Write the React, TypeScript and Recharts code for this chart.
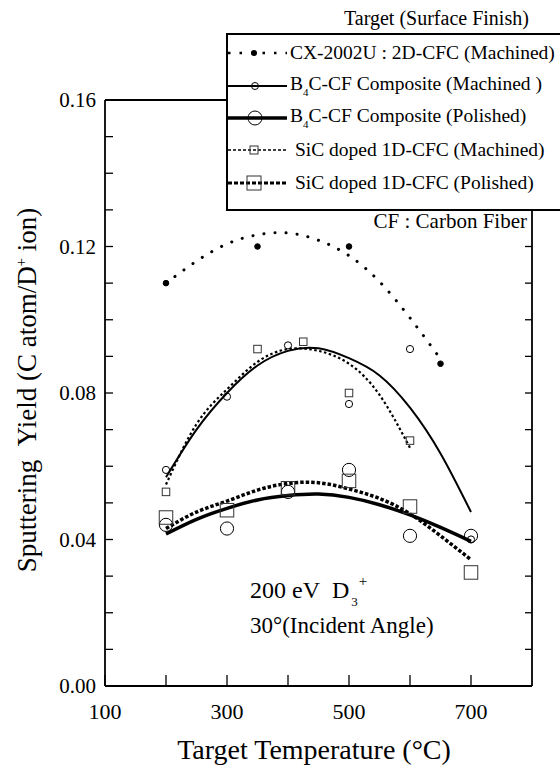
import { ComposedChart, Line, Scatter, XAxis, YAxis, Legend } from 'recharts'

const SERIF = '"Liberation Serif", "Times New Roman", serif'

// axis ticks
const xTicks = [100, 200, 300, 400, 500, 600, 700]
const xTickLabels = [100, 300, 500, 700]
const yTicks = [0, 0.01, 0.02, 0.03, 0.04, 0.05, 0.06, 0.07, 0.08, 0.09, 0.1, 0.11, 0.12, 0.13, 0.14, 0.15, 0.16]
const yTickLabels = [0, 0.04, 0.08, 0.12, 0.16]

// measured points
const cxTemps = [200, 350, 500, 650]
const cxYield = [0.110, 0.120, 0.120, 0.088]
const b4cMachTemps = [200, 300, 400, 500, 600, 700]
const b4cMachYield = [0.059, 0.079, 0.093, 0.077, 0.092, 0.040]
const b4cPolTemps = [200, 300, 400, 500, 600, 700]
const b4cPolYield = [0.044, 0.043, 0.053, 0.059, 0.041, 0.041]
const sicMachTemps = [200, 350, 425, 500, 600]
const sicMachYield = [0.053, 0.092, 0.094, 0.080, 0.067]
const sicPolTemps = [200, 300, 400, 500, 600, 700]
const sicPolYield = [0.046, 0.048, 0.054, 0.056, 0.049, 0.031]

// fitted curves
const fitTemps = [200, 250, 300, 350, 400, 450, 500, 550, 600, 650, 700]
const cxFit = [0.110, 0.116, 0.1207, 0.1232, 0.1237, 0.1217, 0.1175, 0.1104, 0.1005, 0.0893]
const b4cMachFit = [0.057, 0.070, 0.080, 0.0875, 0.0915, 0.0922, 0.0895, 0.0848, 0.076, 0.0635, 0.0475]
const sicMachFit = [0.055, 0.0715, 0.081, 0.0885, 0.092, 0.0915, 0.088, 0.0795, 0.065]
const b4cPolFit = [0.0415, 0.0455, 0.0485, 0.0508, 0.052, 0.0524, 0.0515, 0.0495, 0.0467, 0.0433, 0.0395]
const sicPolFit = [0.043, 0.0475, 0.0505, 0.0535, 0.0553, 0.0555, 0.0538, 0.0512, 0.047, 0.041, 0.0345]

const toPoints = (temps: number[], values: number[]) => values.map((y, i) => ({ t: temps[i], y }))

const circleShape = (r: number, filled: boolean) => (p: any) => (
  <circle cx={p.cx} cy={p.cy} r={r} fill={filled ? '#000' : 'none'} stroke="#000" strokeWidth={1} />
)
const squareShape = (s: number) => (p: any) => (
  <rect x={p.cx - s / 2} y={p.cy - s / 2} width={s} height={s} fill="none" stroke="#333" strokeWidth={1} />
)

const XTick = (p: any) => {
  const v = p.payload.value
  return (
    <g>
      <line x1={p.x} y1={p.y} x2={p.x} y2={p.y - 11} stroke="#000" strokeWidth={1.3} />
      {xTickLabels.includes(v) && (
        <text x={p.x} y={p.y + 33} textAnchor="middle" fontFamily={SERIF} fontSize={22} fill="#000">
          {v}
        </text>
      )}
    </g>
  )
}

const YTickLeft = (p: any) => {
  const v = p.payload.value
  const labelled = yTickLabels.some((l) => Math.abs(l - v) < 1e-6)
  return (
    <g>
      <line x1={p.x} y1={p.y} x2={p.x + 8} y2={p.y} stroke="#000" strokeWidth={1.3} />
      {labelled && (
        <text x={p.x - 9} y={p.y} dy="0.35em" textAnchor="end" fontFamily={SERIF} fontSize={21} fill="#000">
          {v.toFixed(2)}
        </text>
      )}
    </g>
  )
}

const YTickRight = (p: any) => (
  <line x1={p.x} y1={p.y} x2={p.x - 7} y2={p.y} stroke="#000" strokeWidth={1.3} />
)

const Sym = ({ dash, width, marker }: { dash?: string; width: number; marker: any }) => (
  <svg width={60} height={24} style={{ flex: 'none' }}>
    <line x1={0} y1={12} x2={59} y2={12} stroke="#000" strokeWidth={width} strokeDasharray={dash} />
    {marker}
  </svg>
)

const legendRows = [
  {
    sym: <Sym dash="2.5 9" width={2.5} marker={<circle cx={26} cy={12} r={3} fill="#000" />} />,
    text: <>CX-2002U : 2D-CFC (Machined)</>,
  },
  {
    sym: <Sym width={2} marker={<circle cx={27} cy={12} r={3.5} fill="none" stroke="#000" />} />,
    text: <>B<sub style={{ fontSize: 11, verticalAlign: '-6px' }}>4</sub>C-CF Composite (Machined )</>,
  },
  {
    sym: <Sym width={3.5} marker={<circle cx={27} cy={12} r={7} fill="none" stroke="#000" />} />,
    text: <>B<sub style={{ fontSize: 11, verticalAlign: '-6px' }}>4</sub>C-CF Composite (Polished)</>,
  },
  {
    sym: <Sym dash="3 2" width={1.6} marker={<rect x={22} y={8} width={8} height={8} fill="none" stroke="#333" />} />,
    text: <>&nbsp;SiC doped 1D-CFC (Machined)</>,
  },
  {
    sym: <Sym dash="4 2" width={3} marker={<rect x={19} y={5} width={14} height={14} fill="none" stroke="#333" />} />,
    text: <>&nbsp;SiC doped 1D-CFC (Polished)</>,
  },
]

const LegendBox = () => (
  <div style={{ position: 'relative', width: 560, height: 240, fontFamily: SERIF, color: '#000' }}>
    <div style={{ position: 'absolute', left: 344, top: 7, fontSize: 20, lineHeight: '22px', whiteSpace: 'nowrap' }}>
      Target (Surface Finish)
    </div>
    <div
      style={{
        position: 'absolute',
        left: 226,
        top: 33,
        width: 345,
        height: 172,
        border: '2px solid #000',
        background: '#fff',
        paddingTop: 2,
        boxSizing: 'content-box',
      }}
    >
      {legendRows.map((r, i) => (
        <div key={i} style={{ display: 'flex', alignItems: 'center', height: 32.4, fontSize: 19.5, whiteSpace: 'nowrap' }}>
          {r.sym}
          <span style={{ marginLeft: 2 }}>{r.text}</span>
        </div>
      ))}
    </div>
    <div style={{ position: 'absolute', right: 33, top: 209, fontSize: 21, lineHeight: '24px', whiteSpace: 'nowrap' }}>
      CF : Carbon Fiber
    </div>
  </div>
)

const yTitle = () => (
  <text
    x={27}
    y={390}
    transform="rotate(-90, 27, 390)"
    textAnchor="middle"
    dy="0.35em"
    fontFamily={SERIF}
    fontSize={27}
    fill="#000"
  >
    {'Sputtering\u00A0\u00A0Yield (C atom/D'}
    <tspan dy={-10} fontSize={15}>+</tspan>
    <tspan dy={10}> ion)</tspan>
  </text>
)

const xTitle = () => (
  <text x={314} y={759} textAnchor="middle" fontFamily={SERIF} fontSize={28} fill="#000">
    Target Temperature (°C)
  </text>
)

export default function App() {
  return (
    <div style={{ position: 'absolute', left: 0, top: 0, width: 560, height: 765, overflow: 'hidden', background: '#fff' }}>
      <ComposedChart width={560} height={765} margin={{ top: 99, right: 0, bottom: 0, left: 0 }}>
        <XAxis
          xAxisId="bottom"
          dataKey="t"
          type="number"
          domain={[100, 800]}
          ticks={xTicks}
          interval={0}
          height={79}
          allowDataOverflow
          axisLine={{ stroke: '#000', strokeWidth: 1.8 }}
          tickLine={false}
          tickSize={0}
          tickMargin={0}
          tick={XTick}
          label={xTitle}
        />
        <XAxis
          xAxisId="top"
          orientation="top"
          type="number"
          domain={[100, 800]}
          height={1}
          allowDataOverflow
          axisLine={{ stroke: '#000', strokeWidth: 1.8 }}
          tick={false}
          tickLine={false}
        />
        <YAxis
          yAxisId="left"
          dataKey="y"
          type="number"
          domain={[0, 0.16]}
          ticks={yTicks}
          interval={0}
          width={105}
          allowDataOverflow
          axisLine={{ stroke: '#000', strokeWidth: 1.8 }}
          tickLine={false}
          tickSize={0}
          tickMargin={0}
          tick={YTickLeft}
          label={yTitle}
        />
        <YAxis
          yAxisId="right"
          orientation="right"
          type="number"
          domain={[0, 0.16]}
          ticks={yTicks}
          interval={0}
          width={28}
          allowDataOverflow
          axisLine={{ stroke: '#000', strokeWidth: 1.8 }}
          tickLine={false}
          tickSize={0}
          tickMargin={0}
          tick={YTickRight}
        />

        {/* fitted curves */}
        <Line xAxisId="bottom" yAxisId="left" data={toPoints(fitTemps, cxFit)} dataKey="y" type="natural"
          stroke="#000" strokeWidth={3} strokeDasharray="0.1 11" strokeLinecap="round" dot={false} isAnimationActive={false} />
        <Line xAxisId="bottom" yAxisId="left" data={toPoints(fitTemps, b4cMachFit)} dataKey="y" type="natural"
          stroke="#000" strokeWidth={2} dot={false} isAnimationActive={false} />
        <Line xAxisId="bottom" yAxisId="left" data={toPoints(fitTemps, sicMachFit)} dataKey="y" type="natural"
          stroke="#000" strokeWidth={2.2} strokeDasharray="2.5 2.5" dot={false} isAnimationActive={false} />
        <Line xAxisId="bottom" yAxisId="left" data={toPoints(fitTemps, b4cPolFit)} dataKey="y" type="natural"
          stroke="#000" strokeWidth={3.5} dot={false} isAnimationActive={false} />
        <Line xAxisId="bottom" yAxisId="left" data={toPoints(fitTemps, sicPolFit)} dataKey="y" type="natural"
          stroke="#000" strokeWidth={3.5} strokeDasharray="3.5 2" dot={false} isAnimationActive={false} />

        {/* measured points */}
        <Scatter xAxisId="bottom" yAxisId="left" data={toPoints(cxTemps, cxYield)} dataKey="y"
          shape={circleShape(2.8, true)} isAnimationActive={false} />
        <Scatter xAxisId="bottom" yAxisId="left" data={toPoints(b4cMachTemps, b4cMachYield)} dataKey="y"
          shape={circleShape(3.6, false)} isAnimationActive={false} />
        <Scatter xAxisId="bottom" yAxisId="left" data={toPoints(b4cPolTemps, b4cPolYield)} dataKey="y"
          shape={circleShape(6.6, false)} isAnimationActive={false} />
        <Scatter xAxisId="bottom" yAxisId="left" data={toPoints(sicMachTemps, sicMachYield)} dataKey="y"
          shape={squareShape(7.5)} isAnimationActive={false} />
        <Scatter xAxisId="bottom" yAxisId="left" data={toPoints(sicPolTemps, sicPolYield)} dataKey="y"
          shape={squareShape(13.5)} isAnimationActive={false} />

        <Legend
          layout="vertical"
          align="center"
          verticalAlign="middle"
          wrapperStyle={{ left: 0, top: 0, width: 560, height: 240 }}
          content={LegendBox}
        />
      </ComposedChart>

      <div style={{ position: 'absolute', left: 250, top: 578, fontFamily: SERIF, fontSize: 24, lineHeight: '24px', whiteSpace: 'nowrap' }}>
        200 eV&nbsp;&nbsp;D
        <span style={{ position: 'relative', top: 8, fontSize: 13, marginLeft: 2 }}>3</span>
        <span style={{ position: 'relative', top: -12, fontSize: 15, marginLeft: 1 }}>+</span>
      </div>
      <div style={{ position: 'absolute', left: 250, top: 614, fontFamily: SERIF, fontSize: 23, lineHeight: '24px', whiteSpace: 'nowrap' }}>
        30°(Incident Angle)
      </div>
    </div>
  )
}
